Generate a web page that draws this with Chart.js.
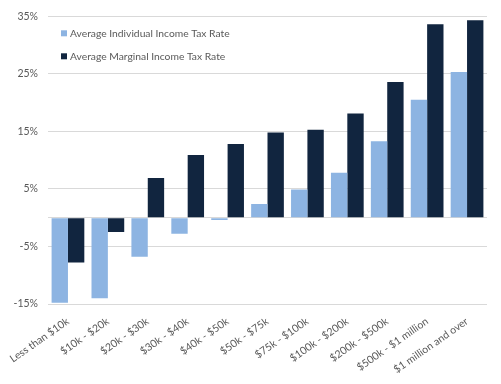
<!DOCTYPE html>
<html>
<head>
<meta charset="utf-8">
<script src="https://cdn.jsdelivr.net/npm/chart.js@4/dist/chart.umd.min.js"></script>
<style>
  html, body { margin: 0; padding: 0; background: #fff; }
  #wrap { width: 501px; height: 384px; }
</style>
</head>
<body>
<div id="wrap"><canvas id="myChart"></canvas></div>
<script>
// income brackets along the x axis
var brackets = ['Less than $10k', '$10k - $20k', '$20k - $30k', '$30k - $40k', '$40k - $50k',
    '$50k - $75k', '$75k - $100k', '$100k - $200k', '$200k - $500k', '$500k - $1 million',
    '$1 million and over'];

// values (percent)
var individualRate = [-14.8, -14.0, -6.8, -2.8, -0.4, 2.4, 4.9, 7.8, 13.3, 20.5, 25.3];
var marginalRate = [-7.8, -2.5, 6.9, 10.9, 12.8, 14.8, 15.3, 18.1, 23.6, 33.6, 34.3];

// y ticks the way the original shows them (0 only gets a line, no label)
var yTicks = [-15, -5, 0, 5, 15, 25, 35];

var seriesNames = ['Average Individual Income Tax Rate', 'Average Marginal Income Tax Rate'];
var lightBlue = '#8DB4E2';
var darkNavy = '#11253F';
var textGrey = '#595959';
var fontFamily = 'Lato, "Open Sans", sans-serif';

// small legend drawn inside the plot, stacked, top-left
var insideLegend = {
    id: 'insideLegend',
    afterDraw: function(chart) {
        var ctx = chart.ctx;
        var area = chart.chartArea;
        var colors = [lightBlue, darkNavy];
        ctx.save();
        ctx.font = '10.3px ' + fontFamily;
        ctx.textBaseline = 'middle';
        for (var i = 0; i < seriesNames.length; i++) {
            var y = area.top + 17 + i * 23;
            var x = area.left + 13;
            ctx.fillStyle = colors[i];
            ctx.fillRect(x, y - 3, 6, 6);
            ctx.fillStyle = textGrey;
            ctx.fillText(seriesNames[i], x + 9, y);
        }
        ctx.restore();
    }
};

var chart = new Chart('myChart', {
    type: 'bar',
    data: {
        labels: brackets,
        datasets: [
            {
                label: seriesNames[0],
                backgroundColor: lightBlue,
                data: individualRate,
                categoryPercentage: 0.82,
                barPercentage: 1.0
            },
            {
                label: seriesNames[1],
                backgroundColor: darkNavy,
                data: marginalRate,
                categoryPercentage: 0.82,
                barPercentage: 1.0
            }
        ]
    },
    options: {
        responsive: true,
        maintainAspectRatio: false,
        animation: false,
        layout: { padding: { left: 4, right: 14, top: 9, bottom: 8 } },
        plugins: {
            legend: { display: false },
            tooltip: { enabled: false }
        },
        scales: {
            x: {
                grid: { display: false },
                border: { display: false },
                ticks: {
                    color: textGrey,
                    font: { family: fontFamily, size: 10.5 },
                    minRotation: 35,
                    maxRotation: 35,
                    padding: 3
                },
                afterFit: function(scale) { scale.height = 72; }
            },
            y: {
                min: -15,
                max: 35,
                border: { display: false },
                grid: { color: '#D9D9D9', lineWidth: 1, drawTicks: false },
                afterBuildTicks: function(scale) {
                    scale.ticks = yTicks.map(function(v) { return { value: v }; });
                },
                ticks: {
                    color: textGrey,
                    font: { family: fontFamily, size: 10.5 },
                    padding: 10,
                    callback: function(v) { return v === 0 ? '' : v + '%'; }
                },
                afterFit: function(scale) { scale.width = 44; }
            }
        }
    },
    plugins: [insideLegend]
});
</script>
</body>
</html>
